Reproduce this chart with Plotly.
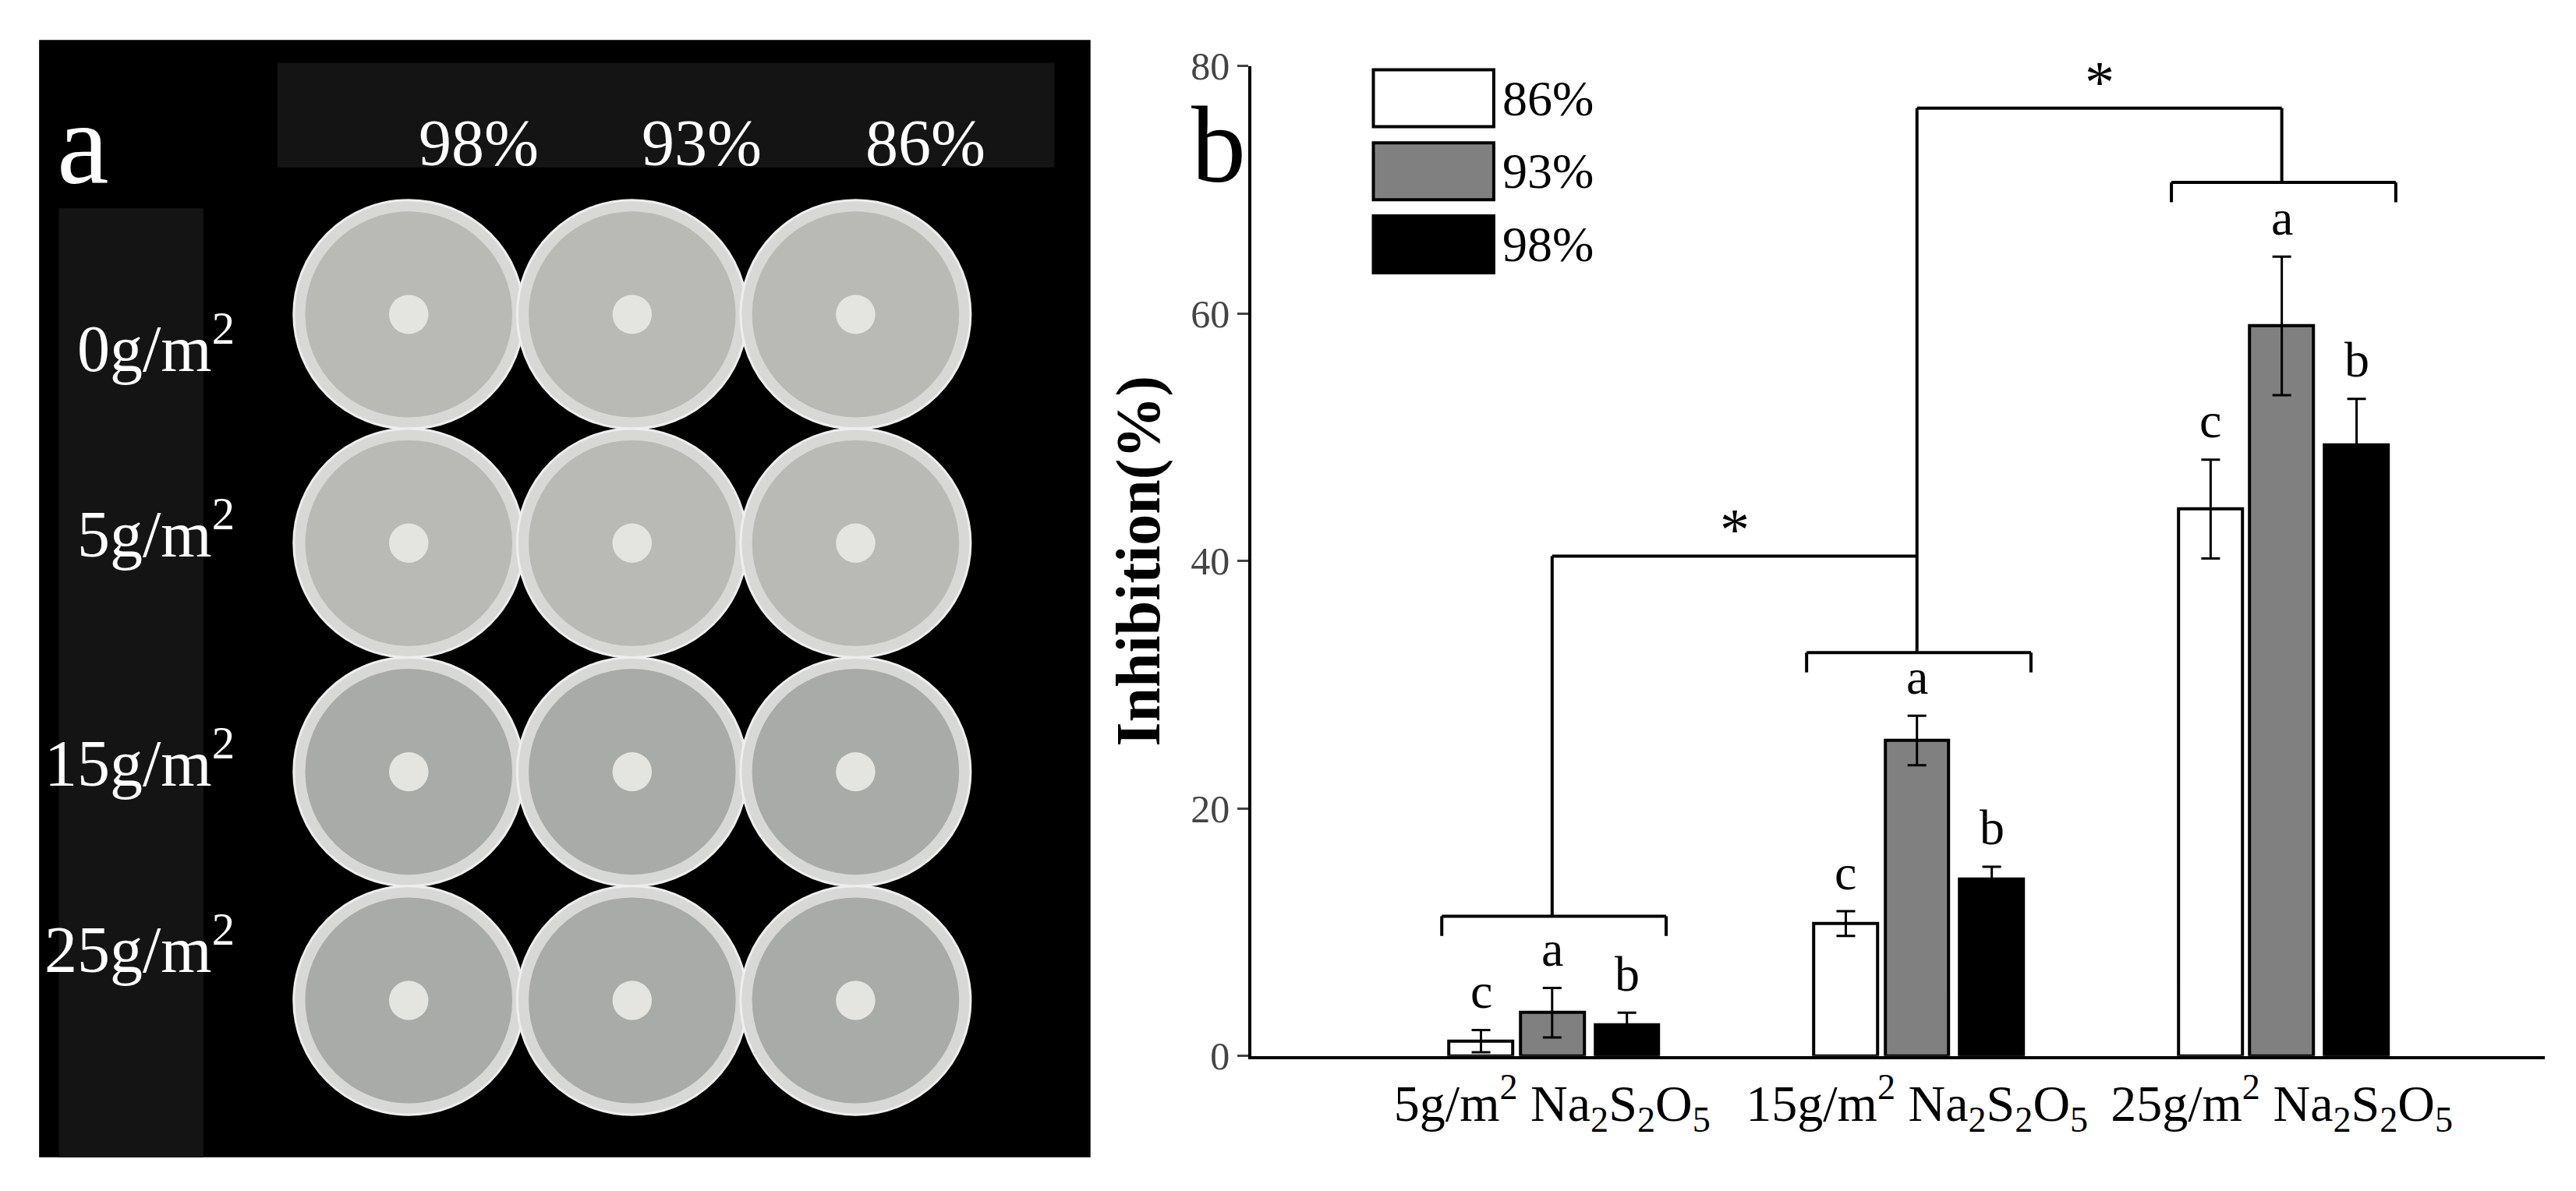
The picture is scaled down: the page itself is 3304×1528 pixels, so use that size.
import plotly.graph_objects as go

groups = [1, 2, 3]
cat_labels = ["5g/m<sup>2</sup> Na<sub>2</sub>S<sub>2</sub>O<sub>5</sub>",
              "15g/m<sup>2</sup> Na<sub>2</sub>S<sub>2</sub>O<sub>5</sub>",
              "25g/m<sup>2</sup> Na<sub>2</sub>S<sub>2</sub>O<sub>5</sub>"]
series_names = ["86%", "93%", "98%"]
vals_86 = [1.2, 10.7, 44.2]
err_86 = [0.9, 1.0, 4.0]
vals_93 = [3.5, 25.5, 59.0]
err_93 = [2.0, 2.0, 5.6]
vals_98 = [2.5, 14.3, 49.4]
err_98 = [1.0, 1.0, 3.7]
letters_86 = ["c", "c", "c"]
letters_93 = ["a", "a", "a"]
letters_98 = ["b", "b", "b"]
plate_cols = ["98%", "93%", "86%"]
plate_rows = ["0g/m<sup>2</sup>", "5g/m<sup>2</sup>", "15g/m<sup>2</sup>", "25g/m<sup>2</sup>"]

W, H = 3304, 1528
S = 3304 / 1568
FONT = "Liberation Serif"
fills = ["white", "#808080", "black"]
offs = [-0.195, 0.0, 0.205]
bw = 0.175

def ycor(y):  # empirical vertical correction (display px)
    return (y - 14.7) / 0.968

fig = go.Figure()
series = [(vals_86, err_86, letters_86), (vals_93, err_93, letters_93), (vals_98, err_98, letters_98)]
for i, (v, e, L) in enumerate(series):
    fig.add_trace(go.Bar(
        x=[g + offs[i] for g in groups], y=v, width=bw, name=series_names[i],
        marker=dict(color=fills[i], line=dict(color="black", width=4)),
        error_y=dict(type="data", array=e, visible=True, color="black", thickness=3, width=12),
        showlegend=False))
    for g, val, er, t in zip(groups, v, e, L):
        fig.add_annotation(x=g + offs[i], y=val + er, text=t, showarrow=False, yshift=50,
                           font=dict(family=FONT, size=64, color="black"), xref="x", yref="y")

shapes = []
def line(x0, y0, x1, y1):
    shapes.append(dict(type="line", xref="x", yref="y", x0=x0, y0=y0, x1=x1, y1=y1,
                       line=dict(color="black", width=4)))

brk = [11.3, 32.6, 70.6]
for g, b in zip(groups, brk):
    l, r = g + offs[0] - bw / 2 - 0.02, g + offs[2] + bw / 2 + 0.02
    line(l, b, r, b); line(l, b, l, b - 1.6); line(r, b, r, b - 1.6)
top1, top2 = 40.4, 76.6
line(1, brk[0], 1, top1); line(1, top1, 2, top1)
line(2, brk[1], 2, top2); line(2, top2, 3, top2); line(3, top2, 3, brk[2])
fig.add_annotation(x=1.5, y=top1, text="*", showarrow=False, yshift=34,
                   font=dict(family=FONT, size=76, color="black"))
fig.add_annotation(x=2.5, y=top2, text="*", showarrow=False, yshift=34,
                   font=dict(family=FONT, size=76, color="black"))

leg_y = [(75.1, 79.7), (69.2, 73.8), (63.3, 67.9)]
for i, (y0, y1) in enumerate(leg_y):
    shapes.append(dict(type="rect", xref="x", yref="y", x0=0.51, x1=0.84, y0=y0, y1=y1,
                       fillcolor=fills[i], line=dict(color="black", width=4)))
    fig.add_annotation(x=0.86, y=(y0 + y1) / 2, text=series_names[i], xanchor="left", showarrow=False,
                       font=dict(family=FONT, size=64, color="black"))

def px(x): return x * S / W
def py(y): return 1 - ycor(y) * S / H
shapes.append(dict(type="rect", xref="paper", yref="paper", x0=px(20), x1=px(660), y0=py(706), y1=py(22),
                   fillcolor="black", line=dict(width=0), layer="below"))
shapes.append(dict(type="rect", xref="paper", yref="paper", x0=px(165), x1=px(638), y0=py(100), y1=py(36),
                   fillcolor="#141414", line=dict(width=0), layer="below"))
shapes.append(dict(type="rect", xref="paper", yref="paper", x0=px(32), x1=px(120), y0=py(706), y1=py(125),
                   fillcolor="#141414", line=dict(width=0), layer="below"))
cx = [245, 381, 517]
cy = [190, 330, 470, 610]
for r, yy in enumerate(cy):
    for c, xx in enumerate(cx):
        col = "#b9bab5" if r < 2 else "#a9aba8"
        shapes.append(dict(type="circle", xref="paper", yref="paper", x0=px(xx - 70), x1=px(xx + 70),
                           y0=py(yy + 70), y1=py(yy - 70), fillcolor="#d8d8d6",
                           line=dict(color="#eeeeee", width=3)))
        shapes.append(dict(type="circle", xref="paper", yref="paper", x0=px(xx - 63), x1=px(xx + 63),
                           y0=py(yy + 63), y1=py(yy - 63), fillcolor=col, line=dict(width=0)))
        shapes.append(dict(type="circle", xref="paper", yref="paper", x0=px(xx - 12), x1=px(xx + 12),
                           y0=py(yy + 12), y1=py(yy - 12), fillcolor="#e4e4e0", line=dict(width=0)))
for c, t in enumerate(plate_cols):
    fig.add_annotation(x=px(cx[c] + 5), y=py(62), xref="paper", yref="paper", text=t, showarrow=False,
                       font=dict(family=FONT, size=84, color="white"))
for r, t in enumerate(plate_rows):
    fig.add_annotation(x=px(140), y=py(cy[r] - 8), xref="paper", yref="paper", text=t, showarrow=False,
                       xanchor="right", font=dict(family=FONT, size=84, color="white"))
fig.add_annotation(x=px(30), y=py(45), xref="paper", yref="paper", text="a", showarrow=False,
                   xanchor="left", font=dict(family=FONT, size=150, color="white"))
fig.add_annotation(x=px(738), y=py(48), xref="paper", yref="paper", text="b", showarrow=False,
                   font=dict(family=FONT, size=140, color="black"))

fig.update_layout(
    width=W, height=H, margin=dict(l=0, r=0, t=0, b=0),
    plot_bgcolor="white", paper_bgcolor="white", shapes=shapes, bargap=0,
    xaxis=dict(domain=[758 * S / W, 1545 * S / W], range=[0.176, 3.72], tickvals=groups,
               ticktext=cat_labels, showline=True, linecolor="black", linewidth=4, ticks="",
               showgrid=False, zeroline=False, tickfont=dict(family=FONT, size=66, color="black")),
    yaxis=dict(domain=[1 - ycor(644) * S / H, 1 - ycor(38) * S / H], range=[0, 80], tickvals=[0, 20, 40, 60, 80],
               showline=True, linecolor="black", linewidth=4, ticks="outside", ticklen=14, tickwidth=3,
               showgrid=False, zeroline=False, tickfont=dict(family=FONT, size=50, color="#444"),
               title=dict(text="<b>Inhibition(%)</b>", font=dict(family=FONT, size=80, color="black"),
                          standoff=14)),
)
fig.write_html("out.html")
